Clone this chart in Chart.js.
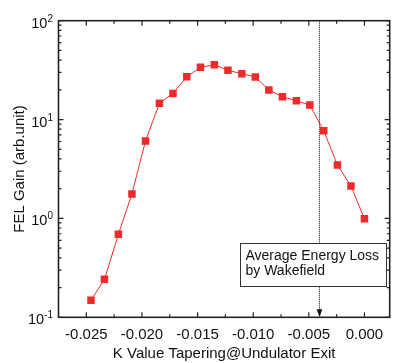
<!DOCTYPE html>
<html>
<head>
<meta charset="utf-8">
<script src="https://cdn.jsdelivr.net/npm/chart.js@4/dist/chart.umd.min.js"></script>
<style>
body{margin:0;background:#fff;}
canvas{display:block;}
</style>
</head>
<body>
<canvas id="gainChart" width="395" height="363"></canvas>
<script>
// K value tapering at undulator exit
const kTaper=[-0.02458,-0.02337,-0.02212,-0.02090,-0.01968,-0.01843,-0.01721,
-0.01597,-0.01474,-0.01349,-0.01227,-0.01102,-0.00981,-0.00859,-0.00737,
-0.00612,-0.00491,-0.00366,-0.00243,-0.00121,0.0000];
// FEL gain (arb. unit)
const gain=[0.149,0.242,0.69,1.77,6.07,14.6,18.4,27.1,33.8,35.9,31.5,29.1,
27.0,19.9,17.0,15.5,14.0,7.7,3.47,2.13,0.99];

const xTicks=[-0.025,-0.020,-0.015,-0.010,-0.005,0.000];
const xMinor=[-0.0225,-0.0175,-0.0125,-0.0075,-0.0025];
const yExp=[-1,0,1,2];
const lossK=-0.0041;
const noteLines=['Average Energy Loss','by Wakefield'];

const FONT='"Liberation Sans", Arial, sans-serif';
const RED='#ee2a2a';

const framePlugin={
id:'frame',
afterDraw(chart){
const ctx=chart.ctx;
const a=chart.chartArea;
const xs=chart.scales.x;
const ys=chart.scales.y;
ctx.save();

// dotted marker line with arrow
const lx=Math.round(xs.getPixelForValue(lossK))+0.5;
ctx.strokeStyle='#111';
ctx.lineWidth=1;
ctx.setLineDash([1,1]);
ctx.beginPath();
ctx.moveTo(lx,a.top);
ctx.lineTo(lx,a.bottom-6);
ctx.stroke();
ctx.setLineDash([]);
ctx.fillStyle='#111';
ctx.beginPath();
ctx.moveTo(lx-2.8,a.bottom-8);
ctx.lineTo(lx+2.8,a.bottom-8);
ctx.lineTo(lx,a.bottom);
ctx.closePath();
ctx.fill();

// note box
ctx.fillStyle='#fff';
ctx.fillRect(240.5,243,146,43);
ctx.strokeStyle='#333';
ctx.lineWidth=1;
ctx.strokeRect(240.5,243.5,146,43);
ctx.fillStyle='#111';
ctx.font='14px '+FONT;
ctx.textAlign='left';
ctx.textBaseline='middle';
ctx.fillText(noteLines[0],245.5,256);
ctx.fillText(noteLines[1],245.5,271.5);

// frame
ctx.strokeStyle='#222';
ctx.lineWidth=1.6;
ctx.strokeRect(a.left,a.top,a.right-a.left,a.bottom-a.top);

// x ticks, inward top and bottom
ctx.lineWidth=1.2;
ctx.beginPath();
xTicks.forEach(v=>{
const px=xs.getPixelForValue(v);
ctx.moveTo(px,a.bottom);ctx.lineTo(px,a.bottom-5);
ctx.moveTo(px,a.top);ctx.lineTo(px,a.top+5);
});
xMinor.forEach(v=>{
const px=xs.getPixelForValue(v);
ctx.moveTo(px,a.bottom);ctx.lineTo(px,a.bottom-3);
ctx.moveTo(px,a.top);ctx.lineTo(px,a.top+3);
});
// y ticks, inward left and right
yExp.forEach(e=>{
const base=Math.pow(10,e);
const py=ys.getPixelForValue(base);
ctx.moveTo(a.left,py);ctx.lineTo(a.left+5,py);
ctx.moveTo(a.right,py);ctx.lineTo(a.right-5,py);
if(e<2){
for(let m=2;m<10;m++){
const my=ys.getPixelForValue(base*m);
ctx.moveTo(a.left,my);ctx.lineTo(a.left+3,my);
ctx.moveTo(a.right,my);ctx.lineTo(a.right-3,my);
}
}
});
ctx.stroke();

// y tick labels with superscripts
ctx.fillStyle='#111';
ctx.textBaseline='alphabetic';
yExp.forEach(e=>{
const py=ys.getPixelForValue(Math.pow(10,e));
const sup=String(e);
ctx.font='10px '+FONT;
const sw=ctx.measureText(sup).width;
const right=53;
ctx.textAlign='left';
ctx.fillText(sup,right-sw,py+1);
ctx.font='14.5px '+FONT;
ctx.textAlign='right';
ctx.fillText('10',right-sw,py+7);
});

ctx.restore();
}
};

new Chart(
document.getElementById('gainChart'),
{
type:'line',
data:{
datasets:[{
data:kTaper.map((k,i)=>({x:k,y:gain[i]})),
borderColor:RED,
backgroundColor:RED,
borderWidth:1,
pointStyle:'rect',
pointRadius:5.3,
pointBorderWidth:0,
pointBackgroundColor:RED,
tension:0
}]
},
options:{
responsive:false,
animation:false,
layout:{padding:{top:20.7,right:3.3,left:0,bottom:0}},
plugins:{legend:{display:false},tooltip:{enabled:false}},
scales:{
x:{
type:'linear',
min:-0.0275,
max:0.00227,
grid:{display:false,drawTicks:false},
border:{display:false},
afterBuildTicks:s=>{s.ticks=xTicks.map(v=>({value:v}));},
afterFit:s=>{s.height=45.7;},
ticks:{
padding:8.5,
color:'#111',
font:{family:FONT,size:15},
maxRotation:0,
autoSkip:false,
callback:v=>v.toFixed(3)
},
title:{
display:true,
text:'K Value Tapering@Undulator Exit',
color:'#111',
font:{family:FONT,size:15},
padding:{top:0,bottom:0}
}
},
y:{
type:'logarithmic',
min:0.1,
max:100,
grid:{display:false,drawTicks:false},
border:{display:false},
afterFit:s=>{s.width=58.5;},
ticks:{display:false},
title:{
display:true,
text:'FEL Gain (arb.unit)',
color:'#111',
font:{family:FONT,size:15},
padding:{top:11,bottom:0}
}
}
}
},
plugins:[framePlugin]
}
);
</script>
</body>
</html>
